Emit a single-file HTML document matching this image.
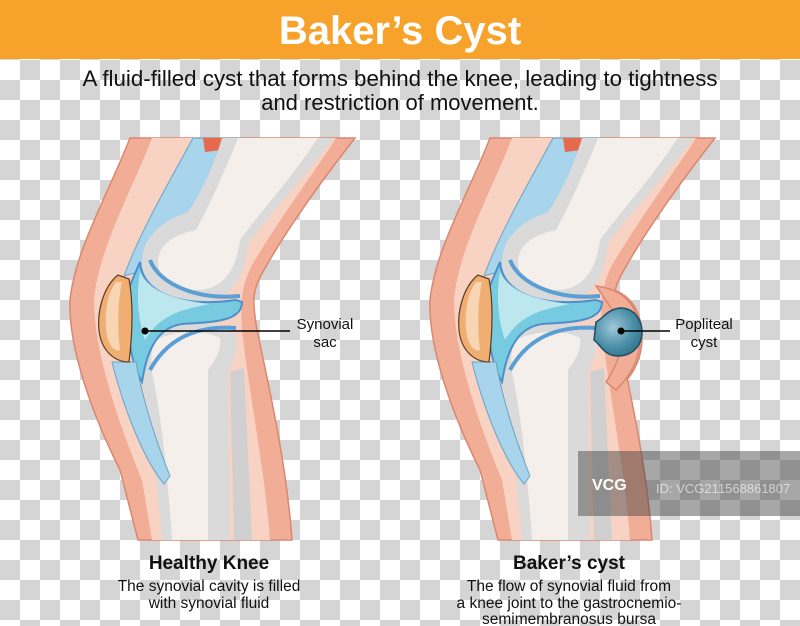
<!DOCTYPE html>
<html><head><meta charset="utf-8"><style>
html,body{margin:0;padding:0;width:800px;height:626px;overflow:hidden;background:#fff}
svg{display:block}
text{font-family:"Liberation Sans",sans-serif}
</style></head><body>
<svg width="800" height="626" viewBox="0 0 800 626" xmlns="http://www.w3.org/2000/svg">
<defs>
<pattern id="chk" x="0" y="60" width="40" height="40" patternUnits="userSpaceOnUse">
<rect width="40" height="40" fill="#fff"/><rect x="20" width="20" height="20" fill="#d5d5d5"/><rect y="20" width="20" height="20" fill="#d5d5d5"/>
</pattern>
<radialGradient id="cy" cx="0.4" cy="0.4" r="0.7"><stop offset="0" stop-color="#9fc9d8"/><stop offset="0.6" stop-color="#4b8fa8"/><stop offset="1" stop-color="#2f6f88"/></radialGradient>
<g id="knee">
<path d="M130,138 C110,190 75,250 70,300 C68,350 95,420 120,470 L138,540 L292,540 C287,470 272,400 257,330 C252,300 252,290 264,270 C292,220 330,170 355,138 Z" fill="#F2AD96" stroke="#D98870" stroke-width="1.5"/>
<path d="M152,138 C132,190 98,250 94,300 C94,350 117,420 142,480 L152,540 L270,540 C265,470 250,400 242,330 C240,300 242,285 252,265 C282,215 316,170 336,138 Z" fill="#F8D2C2"/>
<path d="M193,138 L242,138 C222,180 184,230 152,268 L124,276 C140,232 168,184 193,138 Z" fill="#A8D4EC" stroke="#6aa3c8" stroke-width="1"/>
<path d="M203,138 L226,138 L222,150 L205,152 Z" fill="#E56A4E"/>
<path d="M222,138 L334,138 C302,180 270,214 248,244 C244,282 228,304 194,304 C162,304 142,286 142,262 C142,236 164,220 188,212 C204,188 214,164 222,138 Z" fill="#DADADA"/>
<path d="M238,138 L318,138 C290,180 262,210 240,240 C236,272 222,290 196,290 C172,290 158,278 158,262 C158,244 176,234 196,230 C212,200 226,168 238,138 Z" fill="#F5EFEC"/>
<path d="M148,330 C170,318 205,318 232,330 C242,342 234,360 228,372 L230,540 L162,540 C157,480 150,420 140,372 C136,350 140,336 148,330 Z" fill="#DADADA"/>
<path d="M160,338 C180,330 205,330 220,338 C222,350 214,362 208,370 L208,540 L172,540 C168,480 162,420 152,372 C150,354 152,342 160,338 Z" fill="#F5EFEC"/>
<path d="M230,372 L244,368 L252,540 L234,540 Z" fill="#D0D0D0"/>
<path d="M140,262 C142,292 178,308 236,300 L242,302 C242,322 212,322 182,324 C162,327 148,342 142,382 C130,362 124,320 128,290 Z" fill="#76CBE0" stroke="#4f8fcc" stroke-width="2"/>
<path d="M140,272 C150,292 175,300 210,304 C180,310 160,315 145,340 C138,320 136,295 140,272 Z" fill="#BDE7EF"/>
<path d="M150,260 C160,286 200,300 240,296" fill="none" stroke="#5b9fd4" stroke-width="4"/>
<path d="M236,328 C210,326 172,330 150,370" fill="none" stroke="#5b9fd4" stroke-width="4"/>
<path d="M112,362 C124,410 144,460 164,484 L170,476 C154,436 142,396 136,362 Z" fill="#A8D4EC" stroke="#6aa3c8" stroke-width="1"/>
<path d="M118,275 C104,286 97,310 99,330 C101,350 114,362 129,362 C133,330 133,300 129,279 Z" fill="#F0AE72" stroke="#5a3b20" stroke-width="1.2"/>
<path d="M116,282 C106,295 104,318 107,336 C110,348 116,352 120,350 C117,328 118,300 122,282 Z" fill="#F8D6B4"/>
</g>
</defs>
<rect x="0" y="0" width="800" height="626" fill="url(#chk)"/>
<rect x="0" y="0" width="800" height="59" fill="#F7A22B"/>
<text x="400" y="44" text-anchor="middle" font-size="40" font-weight="bold" fill="#fff">Baker’s Cyst</text>
<text x="400" y="86" text-anchor="middle" font-size="22" fill="#111" textLength="635" lengthAdjust="spacingAndGlyphs">A fluid-filled cyst that forms behind the knee, leading to tightness</text>
<text x="400" y="110" text-anchor="middle" font-size="22" fill="#111">and restriction of movement.</text>
<use href="#knee"/>
<g transform="translate(360,0)">
<path d="M238,286 C270,290 282,310 282,338 C282,362 270,378 258,390 L250,378 C262,360 266,340 260,318 Z" fill="#F2AD96" stroke="#D98870" stroke-width="1.5"/>
<use href="#knee"/>
</g>
<path d="M596,286 C628,290 640,310 640,338 C640,362 628,378 616,390 L606,382 C620,362 625,340 618,318 Z" fill="#F2AD96" stroke="#D98870" stroke-width="1.5"/>
<path d="M596,322 C604,318 606,310 620,308 C636,308 642,322 642,332 C642,346 632,356 618,356 C604,356 600,344 594,340 Z" fill="url(#cy)" stroke="#1f4f66" stroke-width="1.5"/>
<line x1="145" y1="331" x2="290" y2="331" stroke="#000" stroke-width="1.5"/>
<circle cx="145" cy="331" r="3.5" fill="#000"/>
<text x="325" y="329" text-anchor="middle" font-size="15" fill="#111">Synovial</text>
<text x="325" y="347" text-anchor="middle" font-size="15" fill="#111">sac</text>
<line x1="621" y1="331" x2="670" y2="331" stroke="#000" stroke-width="1.5"/>
<circle cx="621" cy="331" r="3.5" fill="#000"/>
<text x="704" y="329" text-anchor="middle" font-size="15" fill="#111">Popliteal</text>
<text x="704" y="347" text-anchor="middle" font-size="15" fill="#111">cyst</text>
<rect x="578" y="451" width="222" height="65" fill="rgba(60,60,60,0.45)"/>
<text x="592" y="490" font-size="16" font-weight="bold" fill="#fff">VCG</text>
<text x="656" y="493" font-size="13" fill="rgba(255,255,255,0.6)">ID: VCG211568861807</text>
<text x="209" y="569" text-anchor="middle" font-size="19" font-weight="bold" fill="#111">Healthy Knee</text>
<text x="209" y="591" text-anchor="middle" font-size="15.5" fill="#111">The synovial cavity is filled</text>
<text x="209" y="608" text-anchor="middle" font-size="15.5" fill="#111">with synovial fluid</text>
<text x="569" y="569" text-anchor="middle" font-size="19" font-weight="bold" fill="#111">Baker’s cyst</text>
<text x="569" y="591" text-anchor="middle" font-size="15.5" fill="#111">The flow of synovial fluid from</text>
<text x="569" y="608" text-anchor="middle" font-size="15.5" fill="#111">a knee joint to the gastrocnemio-</text>
<text x="569" y="624" text-anchor="middle" font-size="15.5" fill="#111">semimembranosus bursa</text>
</svg>
</body></html>
